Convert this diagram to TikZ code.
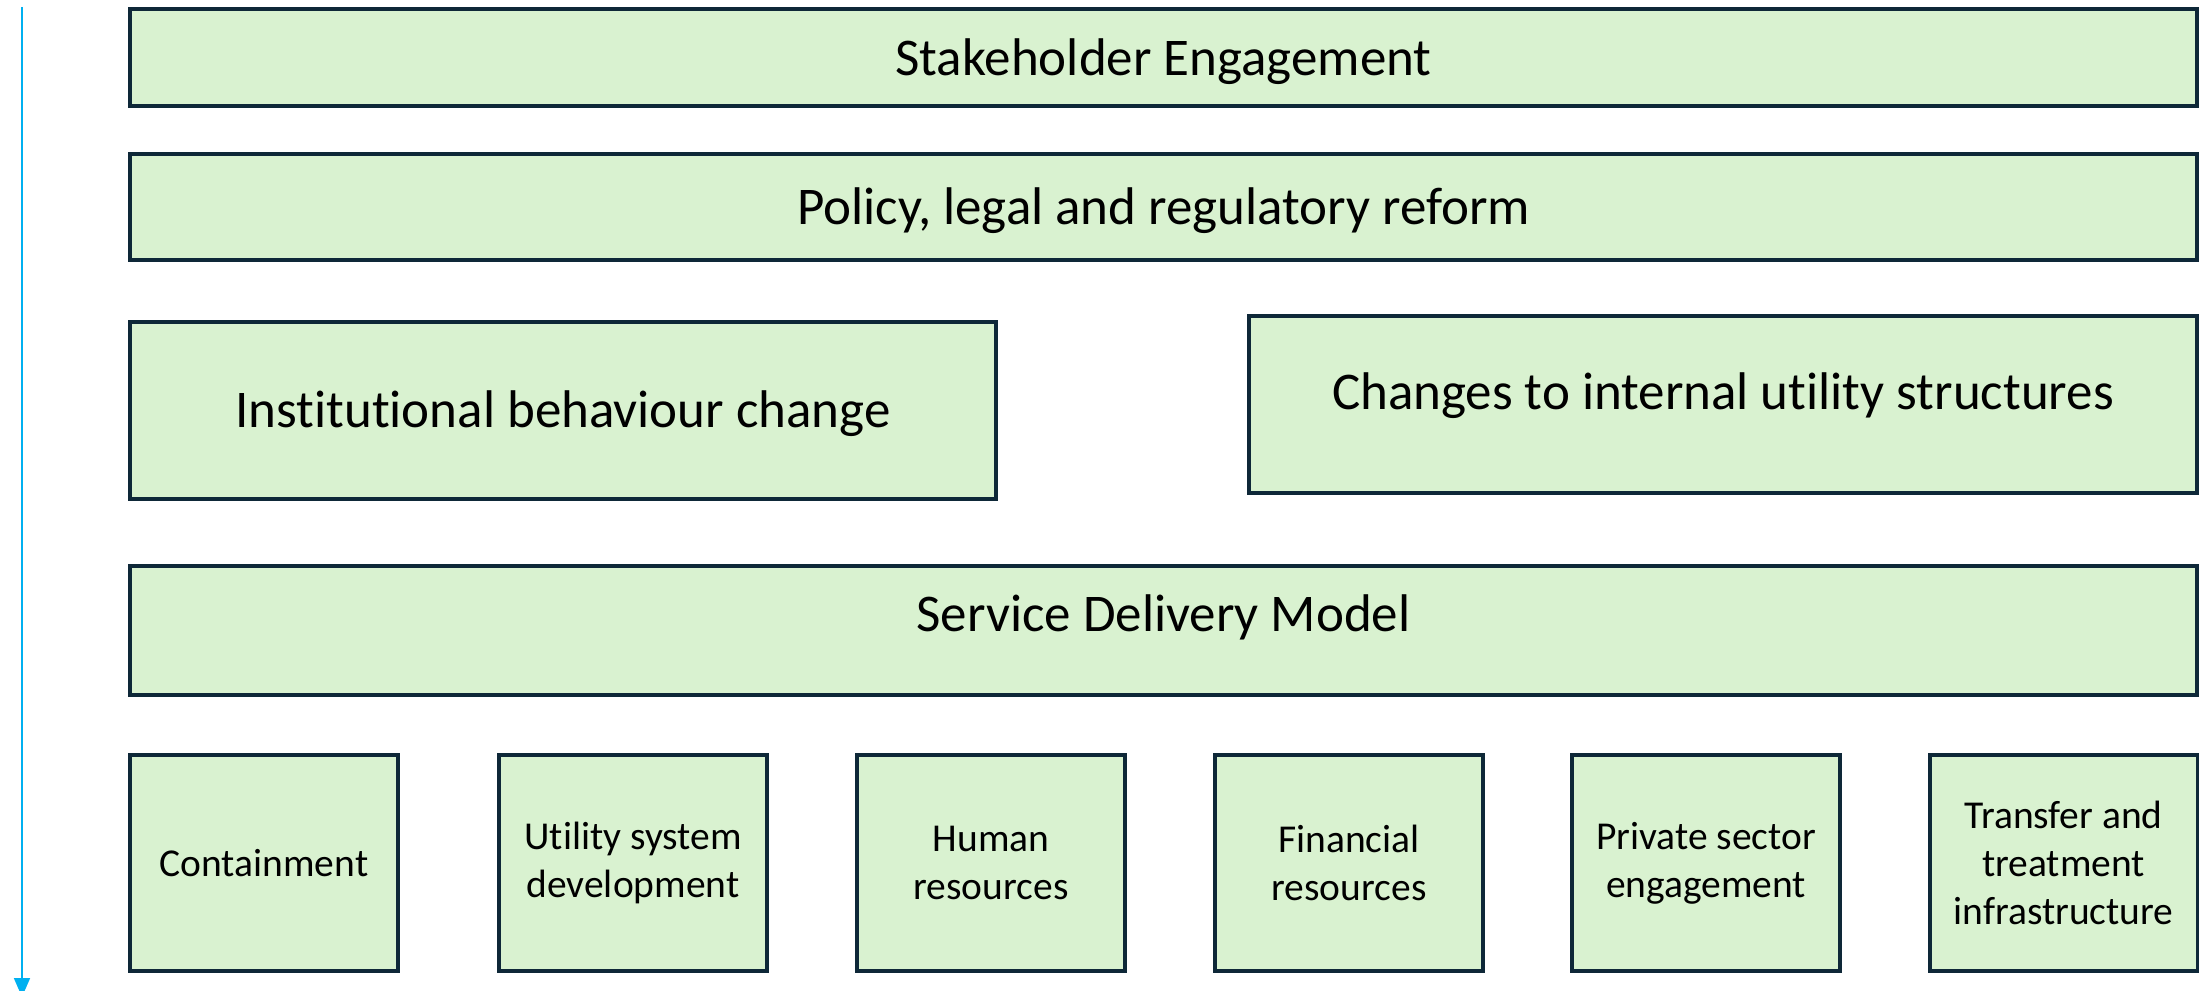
\documentclass[tikz,border=0pt]{standalone}
\usepackage{fontspec}
\setmainfont{Carlito}[Ligatures=NoCommon]
\usepackage{tikz}
\usetikzlibrary{arrows.meta}
\usepackage{xcolor}
\definecolor{boxfill}{HTML}{D9F2D0}
\definecolor{boxline}{HTML}{0E2838}
\definecolor{flowblue}{HTML}{00B0F0}
\tikzset{
  layerbox/.style={draw=boxline, fill=boxfill, line width=2pt, inner sep=0pt},
  layertext/.style={inner sep=0pt, font=\fontsize{26.5}{32.3}\selectfont},
  areabox/.style={layerbox, minimum width=134pt, minimum height=108pt, align=center,
    font=\fontsize{19.75}{24.1}\selectfont},
}

\begin{document}
\begin{tikzpicture}[x=0.5pt, y=-0.5pt]
          \useasboundingbox (0,0) rectangle (2199,990);

          \coordinate (top) at (22,7);
          \coordinate (bottom) at (22,997);
          \draw[flowblue, line width=0.9pt, -{Triangle[width=8pt, length=9.5pt]}] (top) -- (bottom);

          \node[layerbox, minimum width=1033.5pt, minimum height=48.5pt] (stake) at (1163.5,57.5) {};
          \node[layertext] (staketext) at ([yshift=-2pt]stake.center) {Stakeholder Engagement};
          \node[layerbox, minimum width=1033.5pt, minimum height=53pt] (policy) at (1163.5,207) {};
          \node[layertext] (policytext) at ([yshift=-2pt]policy.center) {Policy, legal and regulatory reform};
          \node[layerbox, minimum width=433pt, minimum height=88.5pt] (inst) at (563,410.5) {};
          \node[layertext] (insttext) at ([yshift=-1.5pt]inst.center) {Institutional behaviour change};
          \node[layerbox, minimum width=474pt, minimum height=88.5pt] (util) at (1723,404.5) {};
          \node[layertext] (utiltext) at ([yshift=4.5pt]util.center) {Changes to internal utility structures};
          \node[layerbox, minimum width=1033.5pt, minimum height=64.5pt] (sdm) at (1163.5,630.5) {};
          \node[layertext] (sdmtext) at ([yshift=6.5pt]sdm.center) {Service Delivery Model};

          \node[areabox] (contain) at (264,863) {Containment};
          \node[areabox] (system) at (633,863) {Utility system\\development};
          \node[areabox] (human) at (991,863) {Human\\resources};
          \node[areabox] (finance) at (1349,863) {Financial\\resources};
          \node[areabox] (private) at (1706,863) {Private sector\\engagement};
          \node[areabox] (transfer) at (2063.5,863) {Transfer and\\treatment\\infrastructure};
        \end{tikzpicture}
\end{document}
